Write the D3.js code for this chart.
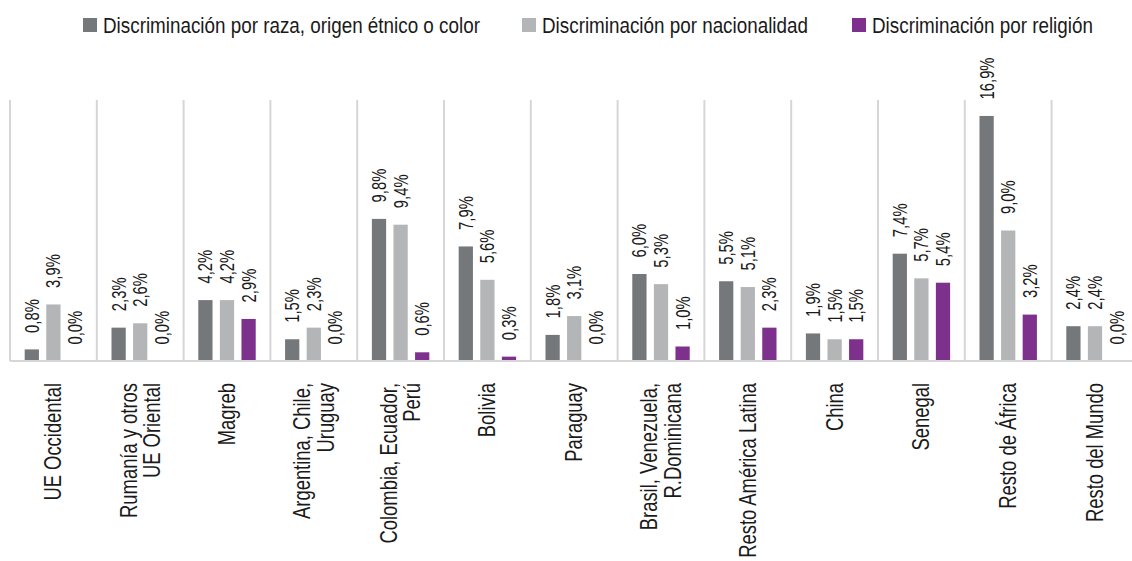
<!DOCTYPE html>
<html>
<head>
<meta charset="utf-8">
<script src="https://cdn.jsdelivr.net/npm/d3@7"></script>
<style>
  html, body { margin: 0; padding: 0; background: #fff; }
  svg { display: block; font-family: "Liberation Sans", Arial, sans-serif; }
</style>
</head>
<body>
<svg id="chart" width="1132" height="561"></svg>
<script>
// ---- Data ----
const categories = [
  "UE Occidental",
  "Rumanía y otros\nUE Oriental",
  "Magreb",
  "Argentina, Chile,\nUruguay",
  "Colombia, Ecuador,\nPerú",
  "Bolivia",
  "Paraguay",
  "Brasil, Venezuela,\nR.Dominicana",
  "Resto América Latina",
  "China",
  "Senegal",
  "Resto de África",
  "Resto del Mundo"
];
const seriesNames = [
  "Discriminación por raza, origen étnico o color",
  "Discriminación por nacionalidad",
  "Discriminación por religión"
];
const raza         = [0.8, 2.3, 4.2, 1.5, 9.8, 7.9, 1.8, 6.0, 5.5, 1.9, 7.4, 16.9, 2.4];
const nacionalidad = [3.9, 2.6, 4.2, 2.3, 9.4, 5.6, 3.1, 5.3, 5.1, 1.5, 5.7, 9.0, 2.4];
const religion     = [0.0, 0.0, 2.9, 0.0, 0.6, 0.3, 0.0, 1.0, 2.3, 1.5, 5.4, 3.2, 0.0];
const seriesValues = [raza, nacionalidad, religion];
const colors = ["#75787b", "#b3b5b6", "#7d318c"];

// ---- Layout ----
const svg = d3.select("#chart");
const left = 10, catW = 86.8;
const baseY = 361, topY = 100;

const x = d3.scaleBand().domain(categories).range([left, left + catW * categories.length]).padding(0);
const xs = d3.scaleBand().domain(seriesNames).range([0, x.bandwidth()]).paddingInner(0.34).paddingOuter(0.68);
const y = d3.scaleLinear().domain([0, 18]).range([baseY, topY]);

const fmt = v => d3.format(".1f")(v).replace(".", ",") + "%";

// Category dividers
svg.append("g").selectAll("line").data(categories).join("line")
  .attr("x1", d => x(d)).attr("x2", d => x(d))
  .attr("y1", y(18)).attr("y2", baseY)
  .attr("stroke", "#d6d6d6").attr("stroke-width", 2);

// Bars and labels
const groups = svg.append("g").selectAll("g").data(categories).join("g")
  .attr("transform", d => `translate(${x(d)},0)`);

seriesNames.forEach((s, si) => {
  groups.append("rect")
    .attr("x", xs(s))
    .attr("width", xs.bandwidth())
    .attr("y", (d, i) => y(seriesValues[si][i]))
    .attr("height", (d, i) => baseY - y(seriesValues[si][i]))
    .attr("fill", colors[si]);
  groups.append("text")
    .attr("transform", (d, i) => `translate(${xs(s) + xs.bandwidth() / 2},${y(seriesValues[si][i]) - 16.5}) rotate(-90) scale(0.76,1)`)
    .attr("dy", "0.36em")
    .attr("font-size", 19.5)
    .attr("fill", "#1a1a1a")
    .text((d, i) => fmt(seriesValues[si][i]));
});

// Baseline axis
svg.append("g")
  .attr("transform", `translate(0,${baseY})`)
  .call(d3.axisBottom(x).tickSize(0).tickFormat(""))
  .call(g => g.select(".domain").attr("stroke", "#d6d6d6").attr("stroke-width", 2)
        .attr("d", `M${left},0H1132`));

// Category labels
const fs = 23, lh = 23.5;
svg.append("g").selectAll("text").data(categories).join("text")
  .attr("transform", d => `translate(${x(d) + x.bandwidth() / 2},383) rotate(-90) scale(0.8,1)`)
  .attr("text-anchor", "end")
  .attr("font-size", fs)
  .attr("fill", "#1a1a1a")
  .each(function(d) {
    const lines = d.split("\n");
    const t = d3.select(this);
    lines.forEach((ln, i) => {
      t.append("tspan").attr("x", 0)
        .attr("dy", i === 0 ? (0.35 * fs - (lines.length - 1) / 2 * lh) : lh)
        .text(ln);
    });
  });

// Legend
const legendX = [83, 522, 852];
const lg = svg.append("g").selectAll("g").data(seriesNames).join("g")
  .attr("transform", (d, i) => `translate(${legendX[i]},18)`);
lg.append("rect").attr("width", 14).attr("height", 14).attr("fill", (d, i) => colors[i]);
lg.append("text").attr("transform", `translate(20,14.5) scale(0.857,1)`)
  .attr("font-size", 22).attr("fill", "#1a1a1a").text(d => d);
</script>
</body>
</html>
